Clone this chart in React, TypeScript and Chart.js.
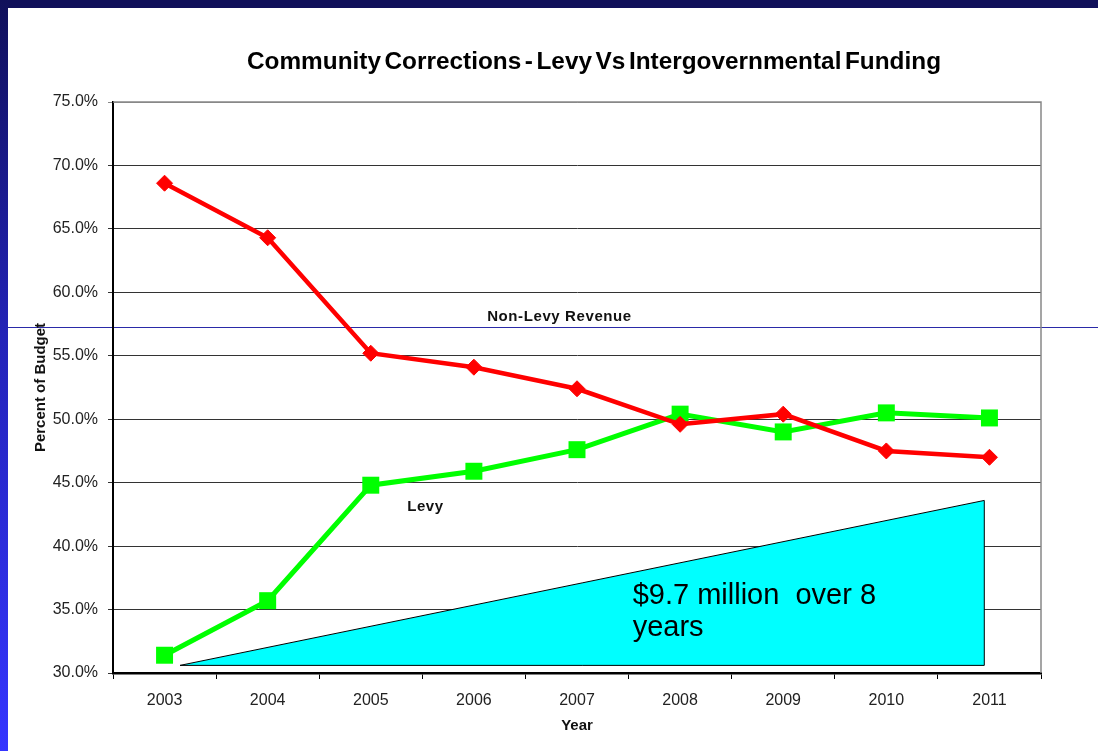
import React, { useEffect, useRef } from "react";
import { Chart, registerables } from "chart.js";

Chart.register(...registerables);

const years = ["2003", "2004", "2005", "2006", "2007", "2008", "2009", "2010", "2011"];
const nonLevyRevenue = [68.6, 64.3, 55.2, 54.1, 52.4, 49.6, 50.4, 47.5, 47.0];
const levy = [31.4, 35.7, 44.8, 45.9, 47.6, 50.4, 49.0, 50.5, 50.1];
const yMin = 30;
const yMax = 75;
const yStep = 5;

const chartTitle = "Community Corrections - Levy Vs Intergovernmental Funding";
const yAxisTitle = "Percent of Budget";
const xAxisTitle = "Year";

// Annotation triangle, in data coordinates (category index, percent)
const triangleX = [0.15, 7.95, 7.95];
const triangleY = [30.6, 30.6, 43.6];
const calloutLines = ["$9.7 million  over 8", "years"];
const calloutX = 4.54;
const calloutY = [36.05, 33.55];

// Series text labels, in data coordinates
const seriesLabels = ["Non-Levy Revenue", "Levy"];
const seriesLabelX = [3.83, 2.53];
const seriesLabelY = [58.1, 43.1];

const FONT = "'Liberation Sans', Arial, Helvetica, sans-serif";

const overlayPlugin = {
  id: "overlay",
  beforeDatasetsDraw(chart: any) {
    const { ctx, scales } = chart;
    const x = scales.x;
    const y = scales.y;
    ctx.save();
    ctx.beginPath();
    triangleX.forEach((v, i) => {
      const px = x.getPixelForValue(v);
      const py = y.getPixelForValue(triangleY[i]);
      if (i === 0) ctx.moveTo(px, py);
      else ctx.lineTo(px, py);
    });
    ctx.closePath();
    ctx.fillStyle = "#00ffff";
    ctx.fill();
    ctx.strokeStyle = "#000000";
    ctx.lineWidth = 1;
    ctx.stroke();

    ctx.fillStyle = "#000000";
    ctx.font = `29px ${FONT}`;
    ctx.textAlign = "left";
    ctx.textBaseline = "middle";
    calloutLines.forEach((t, i) => {
      ctx.fillText(t, x.getPixelForValue(calloutX), y.getPixelForValue(calloutY[i]));
    });
    ctx.restore();
  },
  afterDatasetsDraw(chart: any) {
    const { ctx, scales, chartArea } = chart;
    const x = scales.x;
    const y = scales.y;
    ctx.save();
    // right & top border of plot area
    ctx.strokeStyle = "#888888";
    ctx.lineWidth = 1.5;
    ctx.beginPath();
    ctx.moveTo(chartArea.left, chartArea.top);
    ctx.lineTo(chartArea.right, chartArea.top);
    ctx.lineTo(chartArea.right, chartArea.bottom);
    ctx.stroke();

    // series labels
    ctx.fillStyle = "#111111";
    ctx.font = `bold 15px ${FONT}`;
    ctx.textAlign = "center";
    ctx.textBaseline = "middle";
    (ctx as any).letterSpacing = "0.6px";
    seriesLabels.forEach((t, i) => {
      ctx.fillText(t, x.getPixelForValue(seriesLabelX[i]), y.getPixelForValue(seriesLabelY[i]));
    });
    (ctx as any).letterSpacing = "0px";

    // chart title, fitted to the original width
    ctx.font = `bold 23px ${FONT}`;
    (ctx as any).wordSpacing = "-3px";
    const w = ctx.measureText(chartTitle).width;
    const target = 694;
    ctx.translate(594, 63);
    ctx.scale(target / w, 1);
    ctx.fillStyle = "#000000";
    ctx.fillText(chartTitle, 0, 0);
    (ctx as any).wordSpacing = "0px";
    ctx.restore();
  },
};

export default function App() {
  const canvasRef = useRef<HTMLCanvasElement | null>(null);

  useEffect(() => {
    document.body.style.margin = "0";
    const canvas = canvasRef.current;
    if (!canvas) return;
    const chart = new Chart(canvas, {
      type: "line",
      data: {
        labels: years,
        datasets: [
          {
            label: seriesLabels[0],
            data: nonLevyRevenue,
            borderColor: "#ff0000",
            backgroundColor: "#ff0000",
            borderWidth: 4.5,
            pointStyle: "rectRot",
            pointRadius: 8,
            pointBorderWidth: 1,
            pointBackgroundColor: "#ff0000",
            pointBorderColor: "#ff0000",
            tension: 0,
          },
          {
            label: seriesLabels[1],
            data: levy,
            borderColor: "#00ff00",
            backgroundColor: "#00ff00",
            borderWidth: 5,
            pointStyle: "rect",
            pointRadius: 12,
            pointBorderWidth: 0,
            pointBackgroundColor: "#00ff00",
            pointBorderColor: "#00ff00",
            tension: 0,
          },
        ],
      },
      options: {
        responsive: false,
        animation: false,
        devicePixelRatio: 1,
        layout: { padding: { top: 102, right: 57, left: 0, bottom: 0 } },
        plugins: {
          legend: { display: false },
          title: { display: false },
          tooltip: { enabled: false },
        },
        scales: {
          x: {
            type: "category",
            offset: true,
            afterFit: (s: any) => {
              s.height = 78;
            },
            grid: {
              offset: true,
              drawOnChartArea: false,
              drawTicks: true,
              tickLength: 6,
              color: "#000000",
              lineWidth: 1,
            },
            border: { color: "#000000", width: 2.5 },
            ticks: {
              color: "#222222",
              font: { family: FONT, size: 16 },
              padding: 12,
              maxRotation: 0,
            },
            title: {
              display: true,
              text: xAxisTitle,
              color: "#111111",
              font: { family: FONT, size: 15, weight: "bold" },
              padding: { top: 0, bottom: 16 },
            },
          },
          y: {
            min: yMin,
            max: yMax,
            afterFit: (s: any) => {
              s.width = 113;
            },
            grid: {
              color: (c: any) => (c.tick && c.tick.value === yMax ? "#888888" : "#333333"),
              lineWidth: 1,
              drawTicks: true,
              tickLength: 5,
            },
            border: { color: "#000000", width: 2 },
            ticks: {
              stepSize: yStep,
              color: "#222222",
              font: { family: FONT, size: 16 },
              padding: 10,
              callback: (v: any) => Number(v).toFixed(1) + "%",
            },
            title: {
              display: true,
              text: yAxisTitle,
              color: "#111111",
              font: { family: FONT, size: 15, weight: "bold" },
              padding: { top: 32, bottom: 0 },
            },
          },
        },
      },
      plugins: [overlayPlugin],
    });
    return () => chart.destroy();
  }, []);

  return (
    <div
      style={{
        position: "fixed",
        left: 0,
        top: 0,
        width: 1098,
        height: 751,
        background: "#ffffff",
        overflow: "hidden",
      }}
    >
      <div style={{ position: "absolute", left: 0, top: 0, width: 1098, height: 8, background: "#10105a" }} />
      <div
        style={{
          position: "absolute",
          left: 0,
          top: 0,
          width: 8,
          height: 751,
          background: "linear-gradient(to bottom, #10105a 0%, #2323b8 45%, #3535ff 100%)",
        }}
      />
      <div style={{ position: "absolute", left: 8, top: 327, width: 1090, height: 1, background: "#2a2aa8" }} />
      <canvas
        ref={canvasRef}
        width={1098}
        height={751}
        style={{ position: "absolute", left: 0, top: 0, width: 1098, height: 751 }}
      />
    </div>
  );
}
